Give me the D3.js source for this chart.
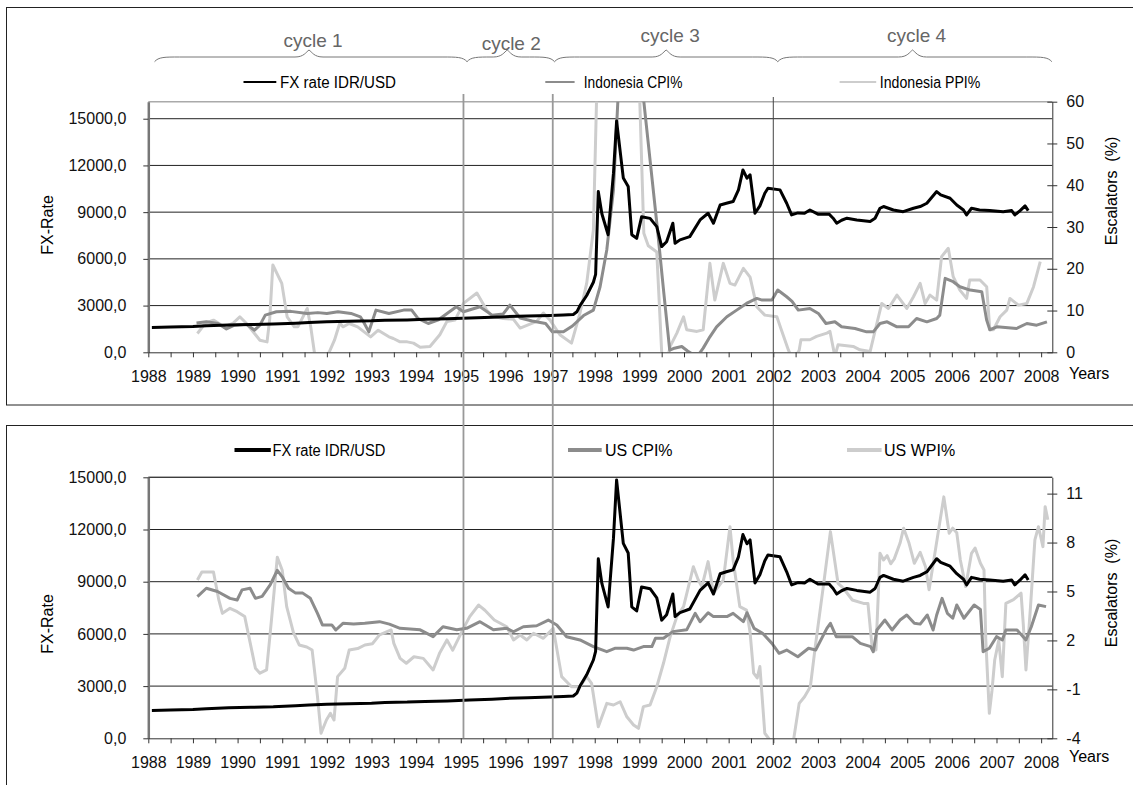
<!DOCTYPE html>
<html>
<head>
<meta charset="utf-8">
<script src="https://cdn.jsdelivr.net/npm/d3@7"></script>
<style>
  body { margin: 0; background: #fff; }
  svg { display: block; }
  text { font-family: 'Liberation Sans', Arial, sans-serif; }
</style>
</head>
<body>
<svg id="chart" width="1133" height="785"></svg>
<script>
// ---- data (decimal year, value) ----
var yearLabels = [1988,1989,1990,1991,1992,1993,1994,1995,1996,1997,1998,1999,2000,2001,2002,2003,2004,2005,2006,2007,2008];
var fxTicks = [0,3000,6000,9000,12000,15000];
var idTicks = [0,10,20,30,40,50,60];
var usTicks = [-4,-1,2,5,8,11];
var cycleNames = ['cycle 1','cycle 2','cycle 3','cycle 4'];
var cycleBreaks = [1988.14,1995.14,1997.1,2002.1,2008.24];
var cycleTips = [1991.6,1996.04,1999.6,2005.12];
var cycleLines = [1995.06,1997.06,2002.0];

var fxRate = [[1988.08,1600],[1988.5,1620],[1989.0,1650],[1989.3,1700],[1989.8,1760],[1990.3,1780],[1990.8,1810],[1991.3,1870],[1991.6,1920],[1992.0,1960],[1992.5,1990],[1993.0,2020],[1993.3,2060],[1993.8,2080],[1994.2,2120],[1994.7,2150],[1995.2,2200],[1995.7,2250],[1996.0,2290],[1996.5,2330],[1997.0,2370],[1997.3,2400],[1997.52,2430],[1997.6,2600],[1997.67,3000],[1997.82,3650],[1997.97,4500],[1998.02,5000],[1998.08,10320],[1998.16,8900],[1998.3,7550],[1998.42,11500],[1998.49,14850],[1998.64,11200],[1998.75,10650],[1998.83,7550],[1998.94,7320],[1999.05,8700],[1999.24,8600],[1999.39,8070],[1999.5,6790],[1999.61,7100],[1999.75,8290],[1999.8,7000],[1999.91,7220],[2000.13,7430],[2000.36,8500],[2000.54,8930],[2000.66,8290],[2000.81,9460],[2000.95,9570],[2001.1,9680],[2001.22,10430],[2001.32,11710],[2001.41,11180],[2001.48,11400],[2001.59,8930],[2001.7,9400],[2001.81,10210],[2001.88,10530],[2002.15,10430],[2002.3,9570],[2002.41,8820],[2002.55,8950],[2002.7,8930],[2002.82,9140],[2003.0,8870],[2003.25,8870],[2003.34,8610],[2003.42,8290],[2003.53,8480],[2003.65,8610],[2003.87,8500],[2004.17,8400],[2004.28,8610],[2004.39,9250],[2004.47,9360],[2004.69,9140],[2004.91,9030],[2005.14,9250],[2005.29,9360],[2005.44,9570],[2005.66,10320],[2005.75,10110],[2005.96,9890],[2006.11,9460],[2006.26,9140],[2006.33,8820],[2006.44,9250],[2006.62,9140],[2006.85,9100],[2007.15,9030],[2007.34,9100],[2007.41,8820],[2007.53,9100],[2007.64,9400],[2007.71,9100]];

var idCpi = [[1989.08,7],[1989.3,7.3],[1989.56,6.9],[1989.75,5.6],[1989.93,6.5],[1990.2,6.7],[1990.38,5.3],[1990.5,6.5],[1990.62,8.9],[1990.87,9.7],[1991.19,9.8],[1991.56,9.3],[1991.8,9.5],[1992.0,9.3],[1992.25,9.7],[1992.54,9.3],[1992.75,8.5],[1992.82,7.3],[1992.94,4.9],[1993.1,10.1],[1993.39,9.3],[1993.72,10.1],[1993.9,10.1],[1994.04,8.1],[1994.27,6.9],[1994.5,7.8],[1994.9,10.9],[1995.06,9.7],[1995.43,10.9],[1995.7,8.9],[1995.95,9.2],[1996.1,11.3],[1996.33,8.2],[1996.6,7.5],[1996.9,6.9],[1997.05,4.9],[1997.3,4.9],[1997.5,6.3],[1997.75,8.8],[1997.97,10.1],[1998.12,15.7],[1998.27,24.5],[1998.42,38.9],[1998.52,60.5],[1998.7,80],[1998.85,78],[1999.0,70],[1999.1,60],[1999.25,45],[1999.4,30],[1999.55,14],[1999.68,0.5],[1999.76,0.9],[1999.95,1.4],[2000.08,0.3],[2000.17,-0.3],[2000.35,-0.2],[2000.43,1],[2000.58,3.7],[2000.73,6.1],[2000.96,8.5],[2001.18,10.1],[2001.4,11.7],[2001.63,12.9],[2001.75,12.5],[2001.97,12.5],[2002.1,14.9],[2002.3,13.3],[2002.42,12.2],[2002.56,10.1],[2002.82,10.5],[2003.01,9.3],[2003.18,6.9],[2003.38,7.3],[2003.53,6.1],[2003.83,5.7],[2004.09,4.9],[2004.24,4.9],[2004.39,6.9],[2004.55,7.3],[2004.77,6.1],[2005.03,6.1],[2005.21,8.1],[2005.44,7.3],[2005.66,8.1],[2005.73,8.9],[2005.85,17.7],[2006.03,16.9],[2006.18,15.7],[2006.41,14.9],[2006.67,14.5],[2006.78,7.7],[2006.85,5.4],[2007.01,6.1],[2007.45,5.7],[2007.68,6.9],[2007.9,6.5],[2008.13,7.3]];

var idPpi = [[1989.1,4.5],[1989.28,7],[1989.46,7.7],[1989.7,6.1],[1989.89,6.9],[1990.05,8.5],[1990.2,6.9],[1990.38,4.5],[1990.5,2.9],[1990.66,2.5],[1990.72,8],[1990.79,20.9],[1990.99,16.5],[1991.11,8.5],[1991.27,6.1],[1991.35,6.1],[1991.56,10.5],[1991.64,6],[1991.72,0],[1991.85,-3],[1992.0,-0.5],[1992.05,0],[1992.17,2.9],[1992.29,7],[1992.36,6.1],[1992.5,6.9],[1992.69,6.1],[1992.98,3.7],[1993.15,5.3],[1993.39,3.7],[1993.49,3.3],[1993.64,2.5],[1993.8,2.5],[1993.94,2.2],[1994.09,1.2],[1994.31,1.4],[1994.53,4.2],[1994.69,7.4],[1994.87,7.7],[1995.06,11.7],[1995.36,14.2],[1995.58,10.1],[1995.7,8.7],[1995.95,8.1],[1996.18,7.9],[1996.33,5.8],[1996.7,7.4],[1996.85,9.4],[1997.0,7.7],[1997.22,4.2],[1997.48,2.2],[1997.67,9.4],[1997.82,16.5],[1997.97,29.3],[1998.04,60],[1998.3,95],[1998.6,110],[1998.85,90],[1999.01,60],[1999.1,28.5],[1999.2,25.5],[1999.39,24],[1999.5,0],[1999.6,-3],[1999.69,1.4],[1999.84,4.6],[1999.99,8.5],[2000.06,5.4],[2000.29,5],[2000.43,5.4],[2000.58,21.3],[2000.69,12.5],[2000.88,21.3],[2001.03,16.5],[2001.14,16.1],[2001.33,20.1],[2001.48,18],[2001.63,10.9],[2001.81,8.9],[2002.08,8.5],[2002.18,5.4],[2002.34,0.5],[2002.45,-2],[2002.58,0.5],[2002.62,3],[2002.82,3],[2002.97,3.8],[2003.2,4.6],[2003.27,5],[2003.38,-1],[2003.45,1.8],[2003.79,1.4],[2003.94,0.6],[2004.17,0.2],[2004.32,6.9],[2004.43,11.7],[2004.58,10.5],[2004.77,13.7],[2004.99,10.5],[2005.14,13.3],[2005.29,16.5],[2005.4,11.7],[2005.51,13.7],[2005.66,12.5],[2005.77,22.9],[2005.92,24.9],[2006.03,18.1],[2006.18,14.9],[2006.33,12.9],[2006.4,17.3],[2006.63,17.3],[2006.78,15.7],[2006.85,5.4],[2006.93,5.4],[2007.08,8.5],[2007.23,10.1],[2007.3,12.9],[2007.49,11.3],[2007.68,11.7],[2007.83,15.7],[2007.98,21.7]];

var usCpi = [[1989.1,4.68],[1989.3,5.2],[1989.55,5.0],[1989.83,4.58],[1989.99,4.48],[1990.1,5.1],[1990.28,5.2],[1990.4,4.58],[1990.55,4.7],[1990.73,5.4],[1990.89,6.3],[1991.0,5.9],[1991.14,5.2],[1991.3,4.9],[1991.46,4.9],[1991.63,4.58],[1991.79,3.66],[1991.9,2.95],[1992.11,2.95],[1992.2,2.64],[1992.36,3.05],[1992.6,3.0],[1992.85,3.05],[1993.18,3.15],[1993.4,3.0],[1993.64,2.74],[1994.09,2.65],[1994.38,2.23],[1994.6,2.84],[1994.91,2.65],[1995.13,2.74],[1995.43,3.15],[1995.73,2.65],[1996.03,2.74],[1996.18,2.53],[1996.4,2.84],[1996.7,2.9],[1996.96,3.25],[1997.15,2.95],[1997.37,2.23],[1997.67,2.03],[1997.97,1.62],[1998.27,1.31],[1998.45,1.52],[1998.72,1.52],[1998.87,1.41],[1999.09,1.62],[1999.28,1.62],[1999.36,2.13],[1999.54,2.13],[1999.75,2.54],[2000.06,2.65],[2000.25,3.66],[2000.36,3.15],[2000.54,3.7],[2000.66,3.46],[2000.96,3.46],[2001.1,3.66],[2001.33,3.15],[2001.41,3.7],[2001.57,2.74],[2001.76,2.44],[2001.97,1.82],[2002.13,1.21],[2002.3,1.41],[2002.55,1.0],[2002.79,1.52],[2002.95,1.41],[2003.2,2.74],[2003.28,3.05],[2003.41,2.23],[2003.77,2.23],[2003.95,1.82],[2004.18,1.62],[2004.24,1.31],[2004.32,2.64],[2004.5,3.25],[2004.66,2.64],[2004.84,3.25],[2004.99,3.56],[2005.16,3.05],[2005.29,3.0],[2005.45,3.56],[2005.58,2.64],[2005.66,3.56],[2005.78,4.58],[2005.9,3.66],[2006.02,3.36],[2006.11,4.17],[2006.27,3.36],[2006.5,4.17],[2006.64,3.9],[2006.7,1.31],[2006.84,1.52],[2007.0,2.23],[2007.13,2.03],[2007.21,2.64],[2007.46,2.64],[2007.66,2.03],[2007.78,2.84],[2007.94,4.17],[2008.11,4.07]];

var usWpi = [[1989.1,5.7],[1989.2,6.2],[1989.46,6.2],[1989.58,4.48],[1989.66,3.66],[1989.83,3.97],[1989.99,3.76],[1990.16,3.46],[1990.4,0.29],[1990.5,-0.01],[1990.65,0.19],[1990.75,3],[1990.89,7.1],[1991.0,6.3],[1991.1,4.07],[1991.25,2.5],[1991.38,1.72],[1991.55,1.6],[1991.67,1.41],[1991.79,-1.45],[1991.87,-3.69],[1991.99,-2.88],[1992.08,-2.47],[1992.16,-2.88],[1992.24,-0.22],[1992.4,0.29],[1992.5,1.41],[1992.69,1.5],[1992.85,1.72],[1993.02,1.8],[1993.18,2.34],[1993.44,2.64],[1993.5,1.82],[1993.64,0.9],[1993.78,0.6],[1993.95,1.0],[1994.16,0.9],[1994.38,0.19],[1994.53,1.25],[1994.69,2.03],[1994.82,1.4],[1995.06,2.74],[1995.2,3.46],[1995.4,4.17],[1995.54,3.85],[1995.75,3.25],[1996.03,2.84],[1996.18,2.03],[1996.33,2.33],[1996.48,2.03],[1996.63,2.44],[1996.85,2.13],[1997.07,2.74],[1997.26,-0.22],[1997.48,-0.84],[1997.67,-0.84],[1997.82,-0.22],[1997.93,-0.63],[1998.08,-3.29],[1998.27,-1.86],[1998.42,-1.96],[1998.57,-1.76],[1998.72,-2.68],[1998.87,-3.18],[1998.98,-3.39],[1999.09,-2.06],[1999.24,-1.96],[1999.39,-0.84],[1999.54,0.6],[1999.69,2.23],[1999.84,3.46],[1999.99,4.07],[2000.21,6.52],[2000.32,5.7],[2000.4,5.3],[2000.54,6.83],[2000.66,4.9],[2000.88,5.7],[2001.03,8.97],[2001.1,6.93],[2001.25,4.07],[2001.4,3.86],[2001.48,2.5],[2001.56,0],[2001.64,-0.3],[2001.7,0.4],[2001.81,-3.69],[2001.95,-4.2],[2002.1,-6],[2002.3,-6],[2002.46,-4],[2002.58,-1.86],[2002.7,-1.45],[2002.83,-0.84],[2002.95,1.82],[2003.12,5.3],[2003.28,8.67],[2003.45,5.5],[2003.57,5.2],[2003.77,4.48],[2004.02,4.27],[2004.12,4.27],[2004.22,1.41],[2004.3,1.41],[2004.39,7.34],[2004.47,6.93],[2004.55,7.2],[2004.63,6.7],[2004.71,7.0],[2004.84,7.97],[2004.92,8.88],[2005.04,7.97],[2005.16,6.73],[2005.29,7.4],[2005.41,6.52],[2005.49,5.1],[2005.6,7],[2005.82,10.8],[2005.94,8.57],[2006.02,8.88],[2006.11,8.6],[2006.19,6.93],[2006.31,5.3],[2006.44,7.34],[2006.52,7.66],[2006.64,6.73],[2006.72,6.32],[2006.76,2.03],[2006.84,-2.47],[2006.9,-1.05],[2006.96,0.8],[2007.05,2.0],[2007.13,-0.22],[2007.21,4.27],[2007.38,4.5],[2007.55,4.9],[2007.6,3],[2007.66,0.19],[2007.76,4],[2007.86,8.17],[2007.94,8.97],[2008.04,7.75],[2008.09,10.2],[2008.15,9.4]];

var topNames = ['FX rate IDR/USD','Indonesia CPI%','Indonesia PPI%'];
var bottomNames = ['FX rate IDR/USD','US CPI%','US WPI%'];

// ---- layout ----
var svg = d3.select('#chart');
var font = "'Liberation Sans', Arial, sans-serif";
var loc = d3.formatLocale({decimal: ',', thousands: '.', grouping: [3], currency: ['', ''], minus: '-'});
var fmtFx = loc.format('.1f'), fmtPct = loc.format('d');
var x = d3.scaleLinear().domain([1988, 2008.25]).range([148.3, 1052.3]);
var xTicks = d3.range(1988, 2008.01, 0.5);
var colBlack = '#000', colMid = '#8c8c8c', colLight = '#cdcdcd';

// panel frames
svg.append('rect').attr('x', 6.5).attr('y', 7.5).attr('width', 1140).attr('height', 397.5)
  .attr('fill', 'none').attr('stroke', '#222');
svg.append('rect').attr('x', 6.5).attr('y', 425.5).attr('width', 1140).attr('height', 420)
  .attr('fill', 'none').attr('stroke', '#222');

var panels = [
  {top: 101.7, bottom: 352.3, leftMax: 16092, right: [0, 60], rightTicks: idTicks,
   series: [{d: idPpi, c: colLight, ax: 'R'}, {d: idCpi, c: colMid, ax: 'R'}, {d: fxRate, c: colBlack, ax: 'L'}],
   names: topNames, legY: 82, legW: 2,
   leg: [[243.5, 276.3, 280, 116], [545.3, 574.6, 583.8, 98.6], [839.6, 876.2, 879.8, 100.5]],
   fxLab: 225, escLab: 191, yearsY: 379},
  {top: 477.3, bottom: 738.3, leftMax: 15000, right: [-4, 12], rightTicks: usTicks,
   series: [{d: usWpi, c: colLight, ax: 'R'}, {d: usCpi, c: colMid, ax: 'R'}, {d: fxRate, c: colBlack, ax: 'L'}],
   names: bottomNames, legY: 450, legW: 4,
   leg: [[234.5, 270.8, 272.6, 112.7], [568, 601.7, 605, null], [847, 881.6, 884, null]],
   fxLab: 624, escLab: 593, yearsY: 762}
];

panels.forEach(function(p, i) {
  var g = svg.append('g');
  var yL = d3.scaleLinear().domain([0, p.leftMax]).range([p.bottom, p.top]);
  var yR = d3.scaleLinear().domain(p.right).range([p.bottom, p.top]);

  // plot area top border
  g.append('line').attr('x1', x(1988)).attr('x2', x(2008.25)).attr('y1', p.top).attr('y2', p.top)
    .attr('stroke', '#aaa').attr('stroke-width', 1.5);

  // gridlines
  g.selectAll('line.grid').data(fxTicks.filter(function(v) { return v > 0; }))
    .enter().append('line').attr('class', 'grid')
    .attr('x1', x(1988)).attr('x2', x(2008.25))
    .attr('y1', function(v) { return yL(v); }).attr('y2', function(v) { return yL(v); })
    .attr('stroke', '#222').attr('stroke-width', 1);

  // series
  var clipId = 'clip' + i;
  svg.append('clipPath').attr('id', clipId).append('rect')
    .attr('x', x(1988)).attr('y', p.top).attr('width', x(2008.25) - x(1988)).attr('height', p.bottom - p.top);
  p.series.forEach(function(s) {
    var ys = s.ax == 'L' ? yL : yR;
    g.append('path').datum(s.d)
      .attr('clip-path', 'url(#' + clipId + ')')
      .attr('d', d3.line().x(function(d) { return x(d[0]); }).y(function(d) { return ys(d[1]); }))
      .attr('fill', 'none').attr('stroke', s.c).attr('stroke-width', 3)
      .attr('stroke-linejoin', 'round');
  });

  // left axis
  var la = g.append('g').attr('transform', 'translate(' + x(1988) + ',0)')
    .call(d3.axisLeft(yL).tickValues(fxTicks).tickFormat(fmtFx).tickSize(5).tickSizeOuter(0).tickPadding(17));
  la.select('.domain').attr('stroke', '#777').attr('stroke-width', 2.5);
  la.selectAll('.tick line').attr('stroke', '#333');
  la.selectAll('text').attr('font-size', 16).attr('font-family', font).attr('fill', '#111');

  // right axis with crossing ticks
  var ra = g.append('g').attr('transform', 'translate(' + x(2008.25) + ',0)')
    .call(d3.axisRight(yR).tickValues(p.rightTicks).tickFormat(fmtPct).tickSize(5).tickSizeOuter(0).tickPadding(9));
  ra.select('.domain').attr('stroke', '#333');
  ra.selectAll('.tick line').attr('x1', -5).attr('stroke', '#333');
  ra.selectAll('text').attr('font-size', 16).attr('font-family', font).attr('fill', '#111');

  // bottom axis
  var ba = g.append('g').attr('transform', 'translate(0,' + p.bottom + ')')
    .call(d3.axisBottom(x).tickValues(xTicks).tickSize(5).tickSizeOuter(0)
      .tickFormat(function(d) { return yearLabels.indexOf(d) >= 0 ? d : ''; }));
  ba.select('.domain').attr('stroke', '#333');
  ba.selectAll('.tick line').attr('stroke', '#333');
  ba.selectAll('text').attr('y', 18).attr('font-size', 16).attr('font-family', font).attr('fill', '#111');

  // axis titles
  g.append('text').attr('transform', 'translate(53,' + p.fxLab + ') rotate(-90)')
    .attr('text-anchor', 'middle').attr('font-size', 16).text('FX-Rate');
  g.append('text').attr('transform', 'translate(1117,' + p.escLab + ') rotate(-90)')
    .attr('text-anchor', 'middle').attr('font-size', 16).attr('xml:space', 'preserve').text('Escalators  (%)');
  g.append('text').attr('x', 1069).attr('y', p.yearsY).attr('font-size', 16).text('Years');

  // legend
  p.names.forEach(function(name, k) {
    var l = p.leg[k];
    g.append('line').attr('x1', l[0]).attr('x2', l[1]).attr('y1', p.legY).attr('y2', p.legY)
      .attr('stroke', p.series[2 - k].c).attr('stroke-width', p.legW);
    var t = g.append('text').attr('x', l[2]).attr('y', p.legY + 5.5).attr('font-size', 16).text(name);
    if (l[3]) t.attr('textLength', l[3]).attr('lengthAdjust', 'spacingAndGlyphs');
  });
});

// cycle separators
svg.selectAll('line.cyc').data(cycleLines).enter().append('line').attr('class', 'cyc')
  .attr('x1', function(d) { return x(d); }).attr('x2', function(d) { return x(d); })
  .attr('y1', function(d, i) { return i < 2 ? 94 : 97; })
  .attr('y2', function(d, i) { return i < 2 ? 738.3 : 745; })
  .attr('stroke', function(d, i) { return i < 2 ? '#999' : '#444'; })
  .attr('stroke-width', function(d, i) { return i < 2 ? 1.8 : 1; });

// cycle braces
function brace(x0, x1, xm) {
  var yE = 61.7, yF = 57, yT = 50;
  return 'M' + x0 + ',' + yE + ' C' + (x0 + 4) + ',' + yF + ' ' + (x0 + 10) + ',' + yF + ' ' + (x0 + 25) + ',' + yF +
    ' L' + (xm - 14) + ',' + yF + ' C' + (xm - 5) + ',' + yF + ' ' + (xm - 3) + ',' + (yT + 2) + ' ' + xm + ',' + yT +
    ' C' + (xm + 3) + ',' + (yT + 2) + ' ' + (xm + 5) + ',' + yF + ' ' + (xm + 14) + ',' + yF +
    ' L' + (x1 - 25) + ',' + yF + ' C' + (x1 - 10) + ',' + yF + ' ' + (x1 - 4) + ',' + yF + ' ' + x1 + ',' + yE;
}
var cycLabelY = [47, 50, 42, 42];
cycleNames.forEach(function(name, i) {
  var x0 = x(cycleBreaks[i]), x1 = x(cycleBreaks[i + 1]), xm = x(cycleTips[i]);
  svg.append('path').attr('d', brace(x0, x1, xm)).attr('fill', 'none').attr('stroke', '#777').attr('stroke-width', 1);
  svg.append('text').attr('x', xm + 4).attr('y', cycLabelY[i]).attr('text-anchor', 'middle')
    .attr('font-size', 19).attr('fill', '#666').text(name);
});
</script>
</body>
</html>
